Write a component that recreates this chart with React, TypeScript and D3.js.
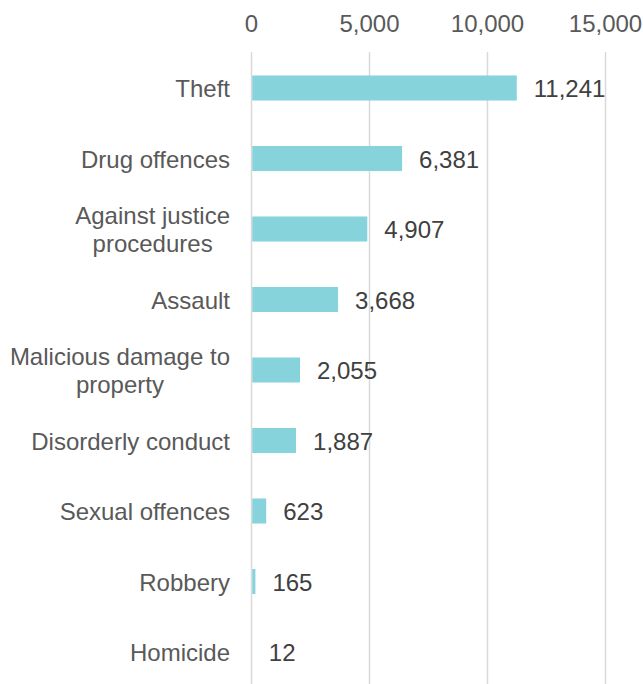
import React from "react";
import * as d3 from "d3";

const categories = [
  ["Theft"],
  ["Drug offences"],
  ["Against justice", "procedures"],
  ["Assault"],
  ["Malicious damage to", "property"],
  ["Disorderly conduct"],
  ["Sexual offences"],
  ["Robbery"],
  ["Homicide"],
];
const values = [11241, 6381, 4907, 3668, 2055, 1887, 623, 165, 12];
const ticks = [0, 5000, 10000, 15000];

const fs = 24;
const fontFamily = "'Liberation Sans', Arial, sans-serif";

function measure(s: string): number {
  const c = document.createElement("canvas").getContext("2d");
  if (!c) return s.length * fs * 0.5;
  c.font = `${fs}px ${fontFamily}`;
  return c.measureText(s).width;
}

export default function App() {
  const W = 643, H = 684;
  const x = d3.scaleLinear().domain([0, 15000]).range([251.5, 605.5]);
  const keys = categories.map((_, i) => String(i));
  const y = d3.scaleBand().domain(keys).range([52.75, 687.25]).paddingInner(0.645).paddingOuter(0.3225);
  const fmt = d3.format(",");
  return (
    <svg width={W} height={H} style={{ position: "absolute", left: 0, top: 0, background: "#fff" }} fontFamily={fontFamily}>
      <rect width={W} height={H} fill="#fff" />
      {ticks.map((t) => (
        <g key={t}>
          <line x1={x(t)} x2={x(t)} y1={52} y2={H} stroke="#D9D9D9" strokeWidth={1.5} />
          <text x={x(t)} y={32} textAnchor="middle" fontSize={fs} fill="#595959">{fmt(t)}</text>
        </g>
      ))}
      {values.map((v, i) => {
        const yy = y(String(i))!;
        const bw = y.bandwidth();
        const cy = yy + bw / 2;
        const lines = categories[i];
        const maxW = Math.max(...lines.map(measure));
        const cx = 230 - maxW / 2;
        return (
          <g key={i}>
            <rect x={x(0) + 0.75} y={yy} width={Math.max(0, x(v) - x(0) - 0.75)} height={bw} fill="#86D3DB" />
            <text x={x(v) + 17} y={cy + 9} fontSize={fs} fill="#404040">{fmt(v)}</text>
            {lines.map((l, j) => (
              <text key={j} x={cx} y={cy + 9 + (j - (lines.length - 1) / 2) * 28} textAnchor="middle" fontSize={fs} fill="#595959">{l}</text>
            ))}
          </g>
        );
      })}
    </svg>
  );
}
